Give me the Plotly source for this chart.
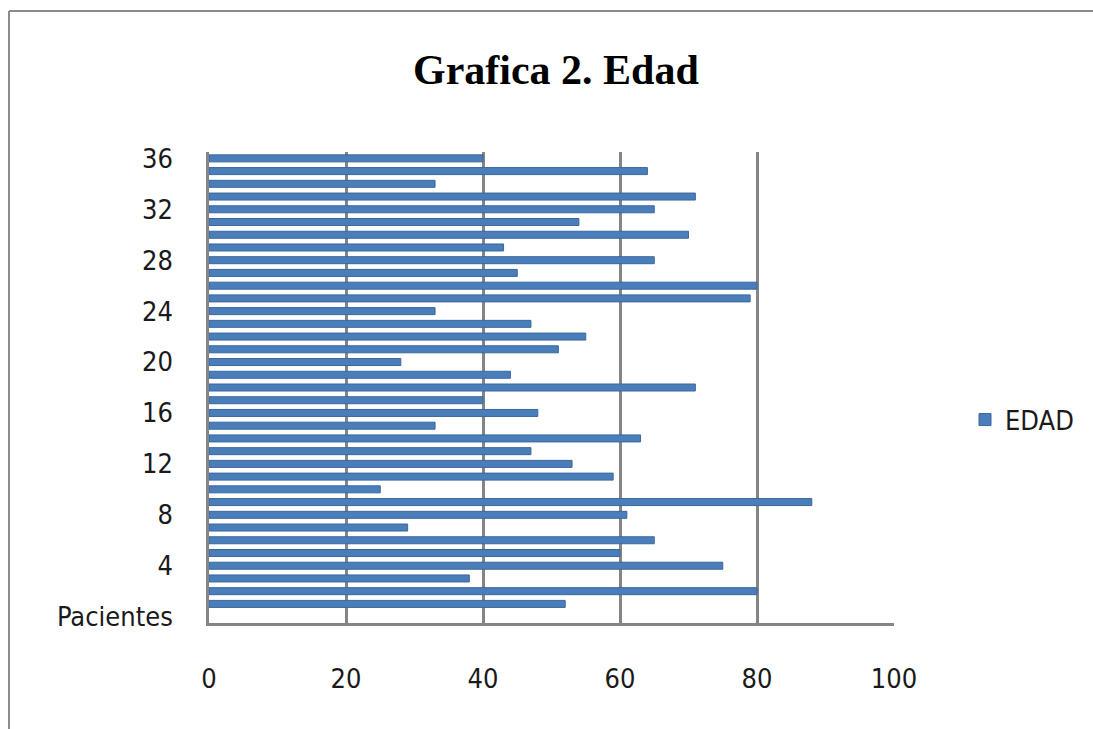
import plotly.graph_objects as go

# Patient ages (EDAD) for patients 1..36
patients = [str(i) for i in range(1, 37)]
edad = [52, 80, 38, 75, 60, 65, 29, 61, 88, 25,
        59, 53, 47, 63, 33, 48, 40, 71, 44, 28,
        51, 55, 47, 33, 79, 80, 45, 65, 43, 70,
        54, 65, 71, 33, 64, 40]

# Category axis: header row first, then the patient numbers
categories = ["Pacientes"] + patients
y_tick_labels = ["Pacientes"] + [str(i) for i in range(4, 37, 4)]
x_ticks = [0, 20, 40, 60, 80, 100]

FONT = "Liberation Sans Narrow, DejaVu Sans Condensed, Arial Narrow, sans-serif"
GRID = "#858585"
BAR = "#4a7ebb"
TXT = "#1a1a1a"

W, H = 1093, 729
ML, MR, MT, MB = 209, 199, 152, 106
PW, PH = W - ML - MR, H - MT - MB


def px_x(px):
    return (px - ML) / PW


def px_y(py):
    return (H - MB - py) / PH


fig = go.Figure()
fig.add_trace(go.Bar(
    x=edad,
    y=patients,
    orientation="h",
    name="EDAD",
    width=0.55,
    marker=dict(color=BAR, line=dict(color="#3b679c", width=1)),
))

fig.update_layout(
    width=W,
    height=H,
    margin=dict(l=ML, r=MR, t=MT, b=MB, autoexpand=False),
    paper_bgcolor="white",
    plot_bgcolor="white",
    font=dict(family=FONT, size=27, color=TXT),
    showlegend=True,
    legend=dict(
        x=px_x(965), y=px_y(420), xanchor="left", yanchor="middle",
        font=dict(family=FONT, size=27, color=TXT),
        bgcolor="rgba(0,0,0,0)",
        itemwidth=30,
    ),
    annotations=[dict(
        text="<b>Grafica 2. Edad</b>",
        x=px_x(556), y=px_y(70), xref="paper", yref="paper",
        xanchor="center", yanchor="middle", showarrow=False,
        font=dict(family="Liberation Serif, Times New Roman, serif", size=42, color="black"),
    )],
    shapes=[
        # outer chart border (left and top edges visible)
        dict(type="line", xref="paper", yref="paper",
             x0=px_x(9), y0=px_y(11), x1=px_x(9), y1=px_y(740),
             line=dict(color="#8c8c8c", width=2)),
        dict(type="line", xref="paper", yref="paper",
             x0=px_x(9), y0=px_y(11), x1=px_x(1100), y1=px_y(11),
             line=dict(color="#8c8c8c", width=2)),
    ],
)

fig.update_xaxes(
    range=[0, 100],
    tickmode="array",
    tickvals=x_ticks,
    ticktext=[str(v) for v in x_ticks],
    showgrid=True,
    gridcolor=GRID,
    gridwidth=2.5,
    zeroline=False,
    showline=True,
    linecolor=GRID,
    linewidth=2.5,
    ticks="",
    ticklabelstandoff=30,
    tickfont=dict(family=FONT, size=27, color=TXT),
)

fig.update_yaxes(
    type="category",
    categoryorder="array",
    categoryarray=categories,
    range=[-0.5, len(categories) - 0.5],
    tickmode="array",
    tickvals=y_tick_labels,
    ticktext=y_tick_labels,
    showgrid=False,
    zeroline=False,
    showline=True,
    linecolor=GRID,
    linewidth=2.5,
    ticks="",
    ticklabelstandoff=28,
    tickfont=dict(family=FONT, size=27, color=TXT),
)

fig.write_html("out.html")
